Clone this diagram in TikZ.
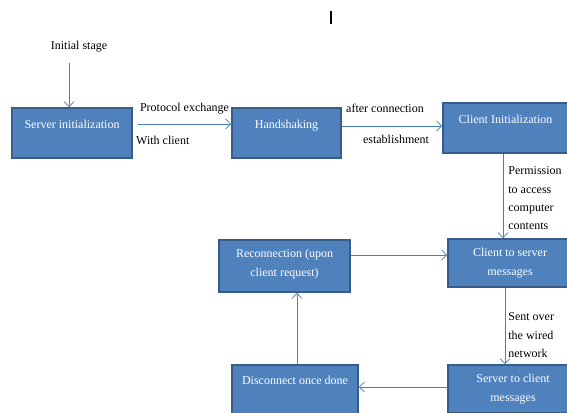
\documentclass[tikz,border=0pt]{standalone}
\usepackage{fontspec}
\setmainfont{Liberation Serif}
\usetikzlibrary{arrows.meta}
\definecolor{boxblue}{HTML}{4F81BD}
\definecolor{boxline}{HTML}{385D8A}
\definecolor{arrowblue}{HTML}{4A7EBB}

\begin{document}
\begin{tikzpicture}[x=1pt, y=-1pt,
    font=\fontsize{12}{18.3}\selectfont,
    stagebox/.style={draw=boxline, line width=1.6pt, fill=boxblue},
    boxtext/.style={anchor=north, inner sep=0, yshift=#1, text=white, align=center},
    boxtext/.default=-13pt,
    flow/.style={draw=arrowblue, line width=0.8pt, -{Straight Barb[length=5pt, width=10pt]}},
    note/.style={inner sep=0, align=left}]
    \clip (0,0) rectangle (567,412);
    \draw[line width=1.2pt] (331,11) -- (331,24); % cursor mark
    \node[note] (init) at (79,47) {Initial stage};
    \node[stagebox, minimum width=120pt, minimum height=50pt, label={[boxtext]north:Server initialization}] (srv) at (72,133) {};
    \node[stagebox, minimum width=109pt, minimum height=50pt, label={[boxtext]north:Handshaking}] (hand) at (286.5,133) {};
    \node[stagebox, minimum width=125pt, minimum height=50pt, label={[boxtext]north:Client Initialization}] (cinit) at (505.5,128) {};
    \node[stagebox, minimum width=124pt, minimum height=48pt, label={[boxtext=-10pt]north:Client to server\\messages}] (c2s) at (510,263) {};
    \node[stagebox, minimum width=131pt, minimum height=52pt, label={[boxtext=-10pt]north:Reconnection (upon\\client request)}] (recon) at (284.5,266) {};
    \node[stagebox, minimum width=126pt, minimum height=50pt, label={[boxtext=-12pt]north:Disconnect once done}] (disc) at (295,390) {};
    \node[stagebox, minimum width=130pt, minimum height=48pt, label={[boxtext=-10pt]north:Server to client\\messages}] (s2c) at (513,389) {};
    % connectors
    \draw[flow] ([shift={(-10pt,-10pt)}]init.south) -- ([xshift=-3pt]srv.north);
    \draw[flow] ([shift={(5pt,9pt)}]srv.east) -- ([yshift=9pt]hand.west)
        node[note, pos=.5, anchor=base, yshift=13pt] {Protocol exchange}
        node[note, pos=0, anchor=base west, xshift=-2pt, yshift=-20pt] {With client};
    \draw[flow] ([yshift=7pt]hand.east) -- ([yshift=2pt]cinit.west)
        node[note, pos=.5, anchor=base, xshift=-7pt, yshift=14pt] {after connection}
        node[note, pos=.5, anchor=base, xshift=4pt, yshift=-17pt] {establishment};
    \draw[flow] ([xshift=-2.5pt]cinit.south) -- ([xshift=-7pt]c2s.north)
        node[note, pos=0, anchor=north west, xshift=5pt, yshift=-12.6pt] {Permission\\to access\\computer\\contents};
    \draw[flow] ([xshift=-5pt]c2s.south) -- ([xshift=-8pt]s2c.north)
        node[note, pos=0, anchor=north west, xshift=3pt, yshift=-24.6pt] {Sent over\\the wired\\network};
    \draw[flow] ([yshift=2pt]s2c.west) -- ([yshift=3pt]disc.east);
    \draw[flow] ([xshift=2pt]disc.north) -- ([xshift=12.5pt]recon.south);
    \draw[flow] ([yshift=11pt]recon.east) -- ([yshift=8pt]c2s.west);
\end{tikzpicture}
\end{document}
